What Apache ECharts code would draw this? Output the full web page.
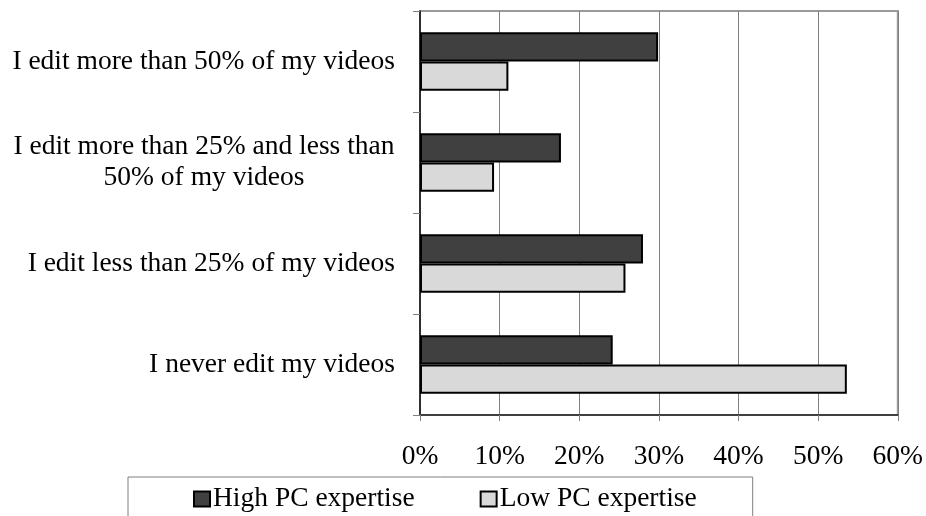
<!DOCTYPE html>
<html>
<head>
<meta charset="utf-8">
<script src="https://cdn.jsdelivr.net/npm/echarts@6/dist/echarts.min.js"></script>
<style>
  html, body { margin: 0; padding: 0; background: #ffffff; }
  #chart { width: 926px; height: 516px; }
</style>
</head>
<body>
<div id="chart"></div>
<script>
// Survey answers about how often people edit their videos, split by PC expertise (%)
const categories = [
  'I edit more than 50% of my videos',
  'I edit more than 25% and less than\n50% of my videos',
  'I edit less than 25% of my videos',
  'I never edit my videos'
];
const seriesNames = ['High PC expertise', 'Low PC expertise'];
const highPC = [29.9, 17.7, 28.0, 24.2];
const lowPC = [11.1, 9.3, 25.8, 53.6];
const axisMax = 60;
const axisStep = 10;

const FONT = '"Liberation Serif", "Times New Roman", serif';
const FS = 27.5;

// width of the widest line of a wrapped label, so its lines can be centred on each other
function textWidth(str) {
  const ctx = document.createElement('canvas').getContext('2d');
  ctx.font = FS + 'px ' + FONT;
  return Math.ceil(ctx.measureText(str).width);
}

const chart = echarts.init(document.getElementById('chart'), null, { renderer: 'canvas' });

chart.setOption({
  backgroundColor: '#ffffff',
  animation: false,
  grid: {
    left: 420,
    right: 28,
    top: 11,
    bottom: 101,
    show: true,
    borderColor: '#9a9a9a',
    borderWidth: 2,
    backgroundColor: 'transparent'
  },
  legend: {
    data: seriesNames,
    left: 128,
    top: 477,
    padding: [7, 56, 40, 65],
    itemGap: 65,
    itemWidth: 16,
    itemHeight: 15,
    icon: 'rect',
    borderColor: '#7f7f7f',
    borderWidth: 1,
    textStyle: { fontFamily: FONT, fontSize: FS, color: '#000', lineHeight: 30, padding: [0, 0, 0, -2] }
  },
  xAxis: {
    type: 'value',
    min: 0,
    max: axisMax,
    interval: axisStep,
    axisLine: { show: true, lineStyle: { color: '#404040', width: 2 } },
    axisTick: { show: true, length: 6, lineStyle: { color: '#808080', width: 1 } },
    splitLine: { show: true, lineStyle: { color: '#808080', width: 1 } },
    axisLabel: {
      formatter: '{value}%',
      margin: 27,
      fontFamily: FONT,
      fontSize: FS,
      lineHeight: 30,
      color: '#000'
    }
  },
  yAxis: {
    type: 'category',
    data: categories,
    inverse: true,
    axisLine: { show: true, lineStyle: { color: '#111111', width: 1.5 } },
    axisTick: { show: true, length: 7, lineStyle: { color: '#808080', width: 1 } },
    splitLine: { show: false },
    axisLabel: {
      margin: 25,
      fontFamily: FONT,
      fontSize: FS,
      lineHeight: 31.5,
      color: '#000',
      formatter: function (value) {
        if (value.indexOf('\n') < 0) return value;
        return value.split('\n').map(function (l) { return '{c|' + l + '}'; }).join('\n');
      },
      rich: {
        c: {
          width: textWidth(categories[1].split('\n')[0]),
          align: 'center',
          fontFamily: FONT,
          fontSize: FS,
          lineHeight: 31.5,
          color: '#000'
        }
      }
    }
  },
  series: [
    {
      name: seriesNames[0],
      type: 'bar',
      data: highPC,
      barGap: '0%',
      barCategoryGap: '42%',
      itemStyle: { color: '#404040', borderColor: '#000', borderWidth: 2 }
    },
    {
      name: seriesNames[1],
      type: 'bar',
      data: lowPC,
      barGap: '0%',
      barCategoryGap: '42%',
      itemStyle: { color: '#d9d9d9', borderColor: '#000', borderWidth: 2 }
    }
  ]
});
</script>
</body>
</html>
